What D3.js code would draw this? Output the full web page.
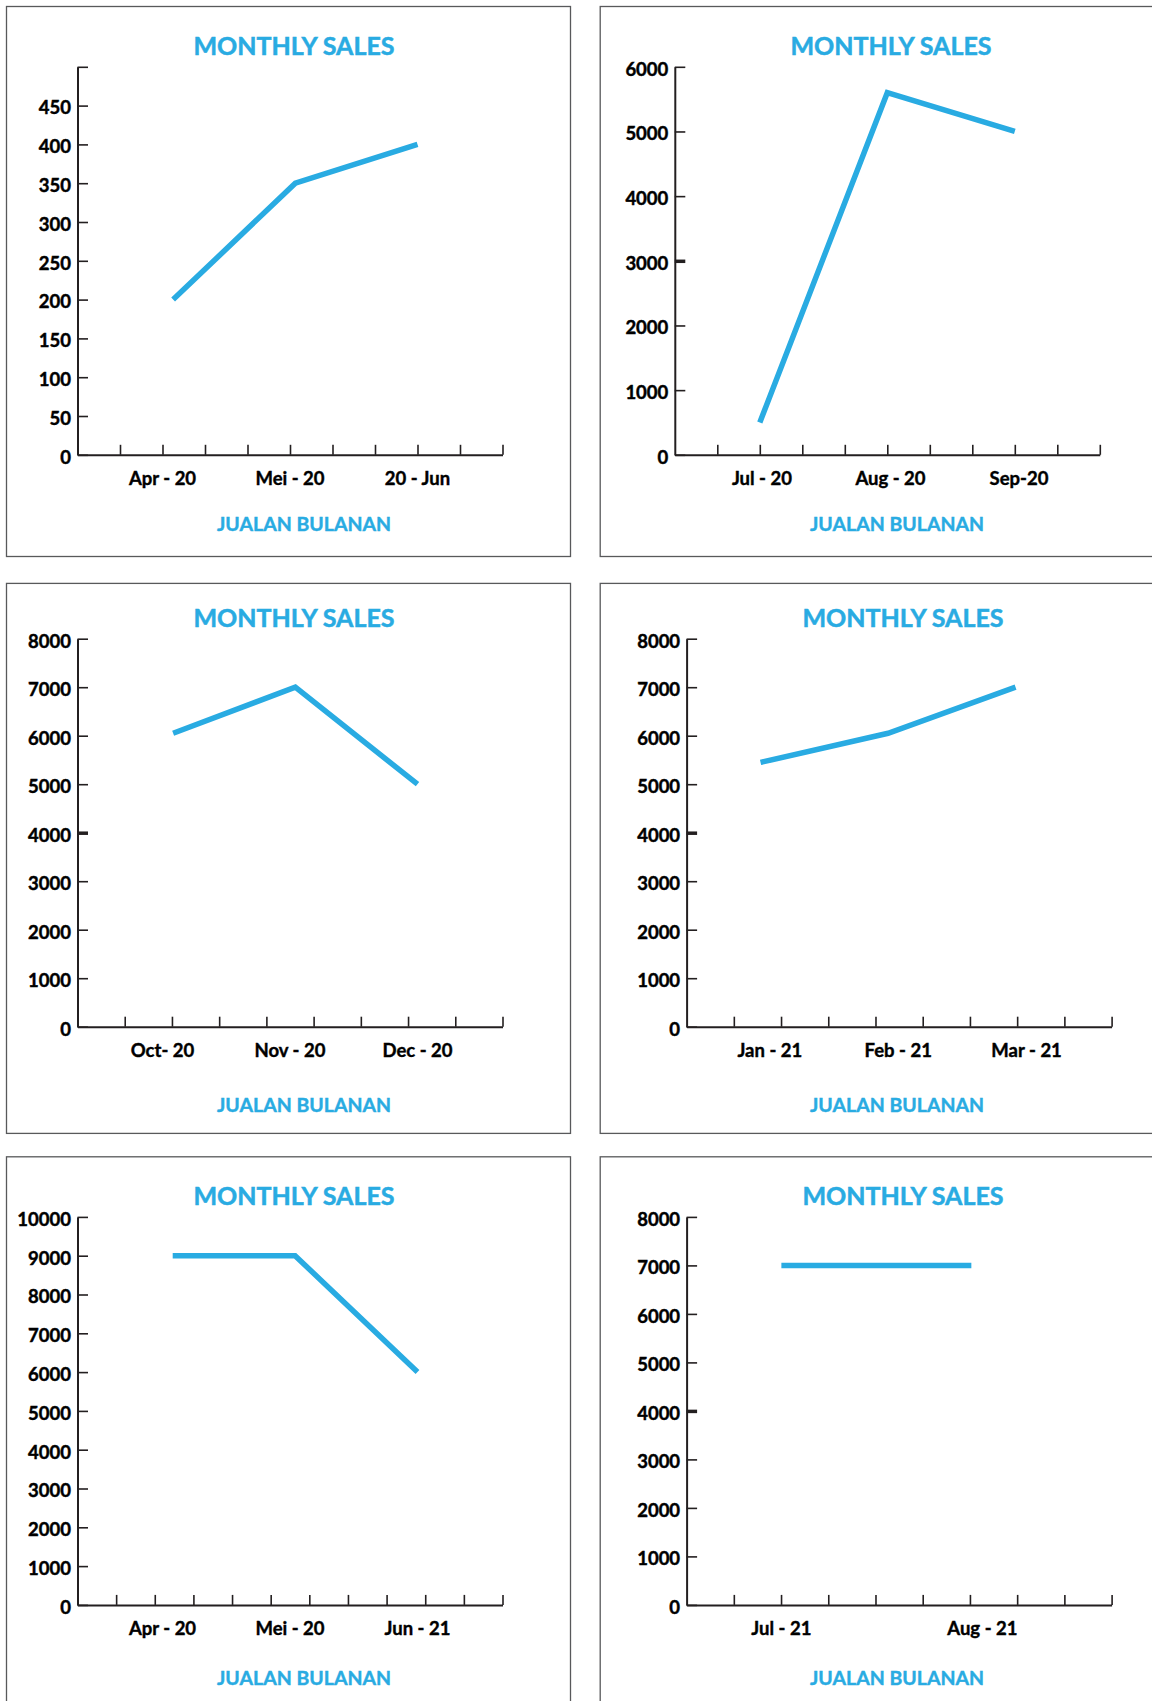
<!DOCTYPE html>
<html>
<head>
<meta charset="utf-8">
<script src="https://cdn.jsdelivr.net/npm/d3@7"></script>
<style>
  html, body { margin: 0; padding: 0; background: #fff; }
  svg { display: block; }
  text { font-family: Lato, "Open Sans", sans-serif; font-weight: 700; }
</style>
</head>
<body>
<div id="chart"></div>
<script>
// chart data, one block per panel
const months1 = ["Apr - 20", "Mei - 20", "20 - Jun"];
const sales1 = [200, 350, 400];
const yTicks1 = [0, 50, 100, 150, 200, 250, 300, 350, 400, 450];
const yMax1 = 500;

const months2 = ["Jul - 20", "Aug - 20", "Sep-20"];
const sales2 = [500, 5600, 5000];
const yTicks2 = [0, 1000, 2000, 3000, 4000, 5000, 6000];
const yMax2 = 6000;

const months3 = ["Oct- 20", "Nov - 20", "Dec - 20"];
const sales3 = [6050, 7000, 5000];
const yTicks3 = [0, 1000, 2000, 3000, 4000, 5000, 6000, 7000, 8000];
const yMax3 = 8000;

const months4 = ["Jan - 21", "Feb - 21", "Mar - 21"];
const sales4 = [5450, 6050, 7000];
const yTicks4 = [0, 1000, 2000, 3000, 4000, 5000, 6000, 7000, 8000];
const yMax4 = 8000;

const months5 = ["Apr - 20", "Mei - 20", "Jun - 21"];
const sales5 = [9000, 9000, 6000];
const yTicks5 = [0, 1000, 2000, 3000, 4000, 5000, 6000, 7000, 8000, 9000, 10000];
const yMax5 = 10000;

const months6 = ["Jul - 21", "Aug - 21"];
const sales6 = [7000, 7000];
const yTicks6 = [0, 1000, 2000, 3000, 4000, 5000, 6000, 7000, 8000];
const yMax6 = 8000;

const TITLE = "MONTHLY SALES";
const X_TITLE = "JUALAN BULANAN";

const BLUE = "#29abe2";
const INK = "#231f20";
const width = 1152;
const height = 1701;
const axisW = 425;
const axisH = 388;

// layout of each panel (frame, axis origin, text positions)
// span = where the month labels sit, lineSpan = where the line is plotted (fraction of axis width)
const panels = [
  { months: months1, sales: sales1, yTicks: yTicks1, yMax: yMax1,
    frame: [6.5, 6.5, 564, 550], ax: 77.5, top: 66.8, titleX: 294, titleY: 55,
    xtX: 304, xtY: 531, xSteps: 10, span: [0.2, 0.8], lineSpan: [0.225, 0.8], heavy: null },
  { months: months2, sales: sales2, yTicks: yTicks2, yMax: yMax2,
    frame: [600.2, 6.5, 564, 550], ax: 674.8, top: 66.8, titleX: 891, titleY: 55,
    xtX: 897, xtY: 531, xSteps: 10, span: [0.205, 0.81], lineSpan: [0.2, 0.8], heavy: 3000 },
  { months: months3, sales: sales3, yTicks: yTicks3, yMax: yMax3,
    frame: [6.5, 583.4, 564, 550], ax: 77.5, top: 638.7, titleX: 294, titleY: 627,
    xtX: 304, xtY: 1111.5, xSteps: 9, span: [0.2, 0.8], lineSpan: [0.225, 0.8], heavy: 4000 },
  { months: months4, sales: sales4, yTicks: yTicks4, yMax: yMax4,
    frame: [600.2, 583.4, 564, 550], ax: 686.6, top: 638.7, titleX: 903, titleY: 627,
    xtX: 897, xtY: 1111.5, xSteps: 9, span: [0.196, 0.8], lineSpan: [0.174, 0.774], heavy: 4000 },
  { months: months5, sales: sales5, yTicks: yTicks5, yMax: yMax5,
    frame: [6.5, 1156.8, 564, 560], ax: 77.5, top: 1216.9, titleX: 294, titleY: 1205,
    xtX: 304, xtY: 1684.5, xSteps: 11, span: [0.2, 0.8], lineSpan: [0.224, 0.8], heavy: null },
  { months: months6, sales: sales6, yTicks: yTicks6, yMax: yMax6,
    frame: [600.2, 1156.8, 564, 560], ax: 686.6, top: 1216.9, titleX: 903, titleY: 1205,
    xtX: 897, xtY: 1684.5, xSteps: 9, span: [0.223, 0.696], lineSpan: [0.223, 0.67], heavy: 4000 },
];

const svg = d3.select("#chart")
  .append("svg")
  .attr("width", width)
  .attr("height", height);

svg.append("rect")
  .attr("width", width)
  .attr("height", height)
  .attr("fill", "#fff");

function drawPanel(p) {
  const [fx, fy, fw, fh] = p.frame;
  const bottom = p.top + axisH;

  svg.append("rect")
    .attr("x", fx)
    .attr("y", fy)
    .attr("width", fw)
    .attr("height", fh)
    .attr("fill", "none")
    .attr("stroke", "#58595b")
    .attr("stroke-width", 1.3);

  svg.append("text")
    .attr("x", p.titleX)
    .attr("y", p.titleY)
    .attr("text-anchor", "middle")
    .attr("fill", BLUE)
    .attr("stroke", BLUE)
    .attr("stroke-width", 0.5)
    .style("font-size", "25px")
    .text(TITLE);

  svg.append("text")
    .attr("x", p.xtX)
    .attr("y", p.xtY)
    .attr("text-anchor", "middle")
    .attr("fill", BLUE)
    .attr("stroke", BLUE)
    .attr("stroke-width", 0.4)
    .style("font-size", "19.5px")
    .text(X_TITLE);

  const y = d3.scaleLinear()
    .domain([0, p.yMax])
    .range([bottom, p.top]);

  // decorative evenly spaced ticks along the x axis
  const xt = d3.scaleLinear()
    .domain([0, p.xSteps])
    .range([p.ax, p.ax + axisW]);

  const xLabel = d3.scalePoint()
    .domain(p.months)
    .range([p.ax + axisW * p.span[0], p.ax + axisW * p.span[1]]);

  const xLine = d3.scalePoint()
    .domain(p.months)
    .range([p.ax + axisW * p.lineSpan[0], p.ax + axisW * p.lineSpan[1]]);

  // y axis, ticks pointing into the plot
  const yAxis = svg.append("g")
    .attr("transform", `translate(${p.ax}, 0)`)
    .call(d3.axisLeft(y)
      .tickValues(Array.from(new Set([...p.yTicks, p.yMax])))
      .tickFormat((d) => p.yTicks.includes(d) ? d : "")
      .tickSizeInner(-10.5)
      .tickSizeOuter(0)
      .tickPadding(6.5));

  yAxis.select(".domain")
    .attr("stroke", INK)
    .attr("stroke-width", 2);
  yAxis.selectAll(".tick line")
    .attr("stroke", INK)
    .attr("stroke-width", (d) => d === p.heavy ? 3.5 : 1.6);
  yAxis.selectAll(".tick text")
    .attr("fill", "#000")
    .attr("stroke", "#000")
    .attr("stroke-width", 0.45)
    .attr("dy", "0.45em")
    .style("font-size", "18.5px")
    .style("font-family", "Lato, 'Open Sans', sans-serif")
    .style("font-weight", 700);

  // x axis, ticks pointing up
  const xAxis = svg.append("g")
    .attr("transform", `translate(0, ${bottom})`)
    .call(d3.axisBottom(xt)
      .tickValues(d3.range(1, p.xSteps + 1))
      .tickFormat("")
      .tickSizeInner(-10)
      .tickSizeOuter(0));

  xAxis.select(".domain")
    .attr("stroke", INK)
    .attr("stroke-width", 2);
  xAxis.selectAll(".tick line")
    .attr("stroke", INK)
    .attr("stroke-width", 1.6);

  // month labels
  svg.selectAll(null).data(p.months).enter()
    .append("text")
    .attr("x", (d) => xLabel(d))
    .attr("y", bottom + 30)
    .attr("text-anchor", "middle")
    .attr("fill", "#000")
    .attr("stroke", "#000")
    .attr("stroke-width", 0.4)
    .style("font-size", "18.5px")
    .text((d) => d);

  const line = d3.line()
    .x((d, i) => xLine(p.months[i]))
    .y((d) => y(d));

  svg.append("path")
    .datum(p.sales)
    .attr("fill", "none")
    .attr("stroke", BLUE)
    .attr("stroke-width", 5.5)
    .attr("stroke-linejoin", "miter")
    .attr("stroke-linecap", "butt")
    .attr("d", line);
}

panels.forEach(drawPanel);
</script>
</body>
</html>
